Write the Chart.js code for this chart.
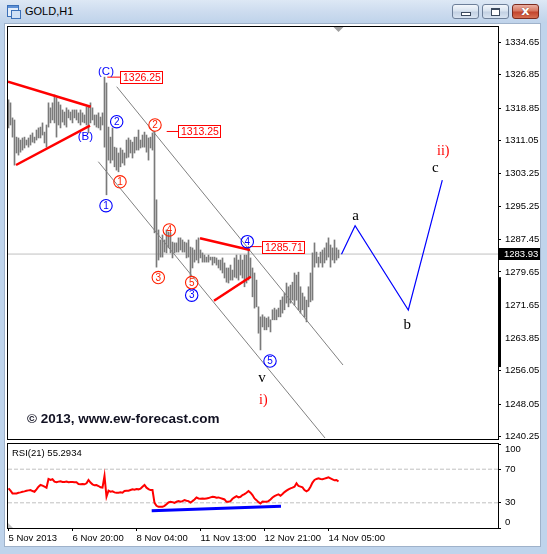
<!DOCTYPE html>
<html>
<head>
<meta charset="utf-8">
<title>GOLD,H1</title>
<script src="https://cdn.jsdelivr.net/npm/chart.js@4.4.1/dist/chart.umd.min.js"></script>
<style>
  html, body { margin: 0; padding: 0; }
  body { width: 547px; height: 554px; overflow: hidden; position: relative; background: #bfd4ec; }
  #title { position: absolute; left: 0; top: 0; width: 547px; height: 23px;
    background: linear-gradient(#dde8f5 0%, #cddcef 50%, #bfd3ea 100%); }
  #icon { position: absolute; left: 7px; top: 5px; width: 10px; height: 10px; border: 1px solid #3b70b8; background: #e4eefa; }
  #icon:before { content: ""; position: absolute; left: 0; top: 0; width: 10px; height: 2px; background: #5d90d6; }
  #icon:after { content: ""; position: absolute; left: 3px; top: 4px; width: 8px; height: 7px; border: 1px solid #3b70b8; background: #cfe0f5; }
  #caption { position: absolute; left: 25px; top: 5px; font: 11px "Liberation Sans", Arial, sans-serif; color: #000; }
  .btn { position: absolute; top: 4px; width: 25px; height: 13px; border: 1px solid #6d7f99; border-radius: 3px;
    background: linear-gradient(#f3f7fc 0%, #d9e3ef 45%, #c3d1e3 55%, #d9e4f1 100%); }
  #bmin { left: 452px; }
  #bmax { left: 482px; }
  #bclose { left: 512px; border-color: #7a2b1e; background: linear-gradient(#eab0a2 0%, #d77862 45%, #c3452d 55%, #d66f52 100%); }
  #bmin i { position: absolute; left: 8px; top: 7px; width: 8px; height: 2px; border: 1px solid #3c4a5e; background: #fff; }
  #bmax i { position: absolute; left: 8px; top: 3px; width: 7px; height: 5px; border: 1px solid #3c4a5e; border-top-width: 2px; background: #fff; }
  #bclose i { position: absolute; left: 0; top: -2px; width: 25px; text-align: center; font: bold 13px "DejaVu Sans", sans-serif; color: #fff; text-shadow: 0 0 1px #5a1a10; }
  #client { position: absolute; left: 4px; top: 23px; width: 537px; height: 524px; box-sizing: border-box; border: 1px solid #9fb2ca; background: #fff; }
  canvas { position: absolute; left: 0; }
  #main { top: 0; }
  #rsi { top: 440px; }
</style>
</head>
<body>
<div id="title">
  <div id="icon"></div>
  <div id="caption">GOLD,H1</div>
  <div class="btn" id="bmin"><i></i></div>
  <div class="btn" id="bmax"><i></i></div>
  <div class="btn" id="bclose"><i>x</i></div>
</div>
<div id="client"></div>
<canvas id="main" width="547" height="441"></canvas>
<canvas id="rsi" width="547" height="114"></canvas>
<script>
// ---- data (bar index = position in the arrays) ----
const priceTicks = [1334.65, 1326.85, 1318.85, 1311.05, 1303.25, 1295.25, 1287.45, 1279.65, 1271.65, 1263.85, 1256.05, 1248.05, 1240.25];
const rsiTicks = [0, 30, 70, 100];
const dateTickBars = [0, 32, 64, 96, 128, 160];
const dateLabels = ["5 Nov 2013", "6 Nov 20:00", "8 Nov 04:00", "11 Nov 13:00", "12 Nov 21:00", "14 Nov 05:00"];

const highs = [
  1320.8, 1320.1, 1316.5, 1316.0, 1311.9, 1311.7, 1311.2, 1311.7, 1311.9, 1311.2,
  1311.7, 1312.4, 1312.9, 1311.9, 1313.6, 1314.1, 1314.3, 1315.3, 1313.1, 1314.8,
  1320.1, 1318.9, 1320.1, 1322.0, 1321.3, 1320.3, 1319.6, 1318.4, 1317.9, 1318.9,
  1318.4, 1317.9, 1318.4, 1318.4, 1318.4, 1317.7, 1318.4, 1317.7, 1317.2, 1319.1,
  1319.1, 1320.1, 1318.9, 1317.2, 1317.2, 1317.7, 1316.7, 1317.7, 1326.25, 1324.85,
  1314.3, 1311.9, 1314.1, 1309.5, 1309.3, 1308.1, 1309.3, 1308.8, 1308.1, 1311.2,
  1311.7, 1311.2, 1310.7, 1311.9, 1311.9, 1313.6, 1311.2, 1312.4, 1313.1, 1312.4,
  1311.7, 1311.9, 1312.9, 1313.25, 1296.9, 1289.7, 1287.3, 1288.5, 1287.3, 1289.7,
  1289.2, 1289.0, 1286.8, 1286.6, 1286.6, 1287.8, 1287.8, 1287.3, 1286.8, 1286.6,
  1287.3, 1285.6, 1285.4, 1284.9, 1287.3, 1287.8, 1284.9, 1284.2, 1283.7, 1283.2,
  1283.7, 1283.2, 1283.2, 1283.2, 1283.0, 1282.5, 1282.5, 1283.0, 1281.8, 1280.6,
  1280.6, 1281.3, 1280.1, 1283.0, 1283.7, 1282.5, 1283.7, 1282.5, 1283.7, 1283.7,
  1285.71, 1283.0, 1280.6, 1279.4, 1277.7, 1271.3, 1268.9, 1269.4, 1268.9, 1268.6,
  1268.9, 1268.2, 1270.6, 1271.0, 1270.6, 1271.0, 1272.9, 1273.7, 1274.6, 1277.0,
  1276.1, 1276.5, 1277.2, 1279.4, 1278.9, 1279.6, 1276.1, 1274.6, 1273.7, 1272.9,
  1276.1, 1279.4, 1284.2, 1286.6, 1284.4, 1283.2, 1284.4, 1284.9, 1285.4, 1286.6,
  1287.8, 1286.1, 1285.4, 1287.3, 1285.4, 1284.9
];
const lows = [
  1314.1, 1314.8, 1311.9, 1305.2, 1308.1, 1307.6, 1308.3, 1308.8, 1309.3, 1310.0,
  1309.5, 1310.0, 1310.7, 1310.5, 1311.2, 1311.7, 1311.7, 1312.4, 1310.5, 1309.5,
  1314.3, 1315.3, 1316.0, 1315.3, 1311.9, 1314.8, 1314.1, 1315.5, 1314.8, 1314.3,
  1316.5, 1316.0, 1315.3, 1316.5, 1316.0, 1315.3, 1314.8, 1315.5, 1315.3, 1314.8,
  1312.9, 1315.3, 1316.0, 1314.8, 1314.3, 1314.1, 1313.6, 1314.8, 1309.5, 1298.1,
  1306.4, 1305.7, 1306.4, 1304.8, 1304.0, 1303.6, 1304.8, 1305.7, 1305.2, 1306.9,
  1307.1, 1308.1, 1306.9, 1308.1, 1308.8, 1308.8, 1309.3, 1309.5, 1309.5, 1308.3,
  1306.4, 1309.3, 1308.8, 1289.0, 1280.8, 1282.5, 1283.2, 1283.2, 1284.4, 1284.2,
  1285.4, 1284.2, 1283.0, 1284.2, 1284.4, 1284.4, 1284.9, 1284.4, 1284.4, 1283.0,
  1283.2, 1278.4, 1280.6, 1282.0, 1282.5, 1281.8, 1283.0, 1282.0, 1282.0, 1282.0,
  1282.0, 1282.5, 1281.3, 1281.8, 1281.3, 1280.6, 1280.1, 1279.4, 1278.2, 1277.2,
  1277.0, 1277.7, 1277.7, 1278.4, 1278.2, 1277.7, 1278.9, 1278.2, 1276.1, 1277.0,
  1277.7, 1278.2, 1273.7, 1271.0, 1271.3, 1265.0, 1261.0, 1266.5, 1265.8, 1265.8,
  1266.5, 1265.3, 1268.2, 1268.2, 1268.2, 1268.9, 1268.9, 1269.8, 1270.6, 1272.2,
  1271.3, 1272.2, 1272.9, 1271.7, 1272.9, 1270.6, 1269.8, 1270.6, 1268.9, 1267.7,
  1271.3, 1272.5, 1272.9, 1280.8, 1281.8, 1280.8, 1281.8, 1280.8, 1281.8, 1282.5,
  1283.2, 1280.8, 1282.5, 1281.8, 1282.5, 1283.0
];
const rsiValues = [
  47.2, 44.4, 41.2, 41.2, 41.2, 42.0, 42.4, 43.2, 43.6, 44.4,
  44.8, 45.2, 44.0, 43.2, 46.0, 49.2, 51.2, 50.4, 49.2, 48.0,
  58.4, 57.2, 58.0, 55.2, 54.4, 55.2, 55.6, 54.8, 54.8, 55.2,
  54.4, 54.8, 54.8, 54.4, 54.4, 52.4, 52.0, 52.4, 52.0, 53.2,
  57.2, 54.0, 52.0, 50.8, 51.2, 50.0, 48.4, 48.0, 62.0, 37.2,
  44.4, 43.2, 43.6, 42.4, 42.0, 42.0, 42.4, 42.0, 44.0, 44.4,
  44.4, 45.2, 46.0, 45.6, 46.4, 46.0, 46.8, 49.2, 51.2, 48.0,
  46.4, 45.2, 45.2, 30.0, 26.4, 25.2, 25.2, 25.2, 26.4, 28.4,
  30.4, 31.2, 30.8, 30.0, 31.2, 32.0, 31.2, 32.0, 33.2, 32.4,
  32.0, 30.4, 32.0, 34.0, 36.4, 35.2, 34.8, 35.2, 34.8, 35.2,
  35.6, 36.4, 37.2, 36.8, 36.0, 36.4, 35.6, 34.8, 34.0, 31.2,
  31.2, 32.0, 34.8, 36.4, 38.0, 36.4, 37.2, 39.2, 40.4, 42.0,
  44.0, 42.0, 39.2, 35.2, 33.2, 30.8, 29.2, 31.6, 31.2, 31.2,
  32.0, 34.0, 36.4, 38.0, 39.2, 40.0, 38.4, 40.4, 42.8, 44.4,
  46.0, 47.2, 48.0, 49.2, 53.2, 50.0, 49.2, 48.4, 45.2, 43.6,
  45.2, 49.2, 54.0, 57.2, 58.4, 59.2, 58.4, 58.0, 58.8, 59.6,
  60.4, 59.2, 58.0, 56.8, 57.2, 55.3
];
const rsiLast = 55.2934;
const lastPrice = 1283.93;

// projected a-b-c path
const projBars = [166.5, 173.3, 199.9, 216.9];
const projPrices = [1283.9, 1290.7, 1270.55, 1301.6];
// channel lines (start bar, end bar) / (start price, end price)
const channelBars = [[54.1, 167.25], [44.9, 158.25]];
const channelPrices = [[1323.96, 1257.39], [1306.02, 1239.93]];
// red triangle lines
const triangleBars = [[-0.25, 41.1], [3.75, 40.75], [95.75, 120.75], [102.75, 121.1]];
const trianglePrices = [[1325.16, 1319.18], [1305.23, 1314.63], [1287.7, 1284.9], [1272.77, 1278.51]];
// marked price levels
const levelMarks = [1326.25, 1313.25, 1285.71];
const levelFromBars = [49.4, 79.1, 120.75];
const levelToBars = [55.75, 84.9, 126.6];
// RSI support line
const rsiSupportBars = [71.6, 136.25];
const rsiSupportValues = [20.4, 26.0];

// wave labels: text, bar, price, style
const waveLabels = [
  ["(C)", 48.75, 1327.55, "blueText"], ["(B)", 38.4, 1312.0, "blueText"],
  ["2", 54.1, 1315.6, "blue"], ["1", 48.75, 1295.5, "blue"], ["3", 91.6, 1274.1, "blue"],
  ["4", 119.4, 1286.9, "blue"], ["5", 130.75, 1258.35, "blue"],
  ["1", 55.75, 1301.2, "red"], ["2", 73.25, 1314.8, "red"], ["3", 74.9, 1278.3, "red"],
  ["4", 80.4, 1289.7, "red"], ["5", 91.6, 1277.1, "red"],
  ["a", 173.6, 1293.0, "serif"], ["b", 199.4, 1267.0, "serif"], ["c", 213.4, 1304.4, "serif"],
  ["v", 126.75, 1254.2, "serif"], ["ii)", 217.4, 1308.4, "redSerif"], ["i)", 127.4, 1249.0, "redSerif"]
];

const X_MIN = -0.25, X_MAX = 244.75;
const FONT = '"Liberation Sans", Arial, sans-serif';
Chart.defaults.font.family = FONT;
Chart.defaults.color = "#000";

function seg(xs, ys) {
  return xs.map((v, k) => ({ x: v, y: ys[k] }));
}
function lineSet(data, color, width, order, dash) {
  return { type: "line", data: data, borderColor: color, borderWidth: width, pointRadius: 0,
    borderDash: dash || [], order: order, tension: 0 };
}

const mainSets = [];
mainSets.push(lineSet(seg(projBars, projPrices), "#0000ff", 1.2, 0));
triangleBars.forEach((b, k) => mainSets.push(lineSet(seg(b, trianglePrices[k]), "#ff0000", 2.5, 1)));
levelMarks.forEach((p, k) => mainSets.push(lineSet(seg([levelFromBars[k], levelToBars[k]], [p, p]), "#ff0000", 1, 1)));
channelBars.forEach((b, k) => mainSets.push(lineSet(seg(b, channelPrices[k]), "#808080", 1, 2)));
mainSets.push({
  type: "bar",
  data: highs.map((h, j) => ({ x: j, y: [lows[j], h] })),
  backgroundColor: "#7a7a7a", borderWidth: 0, barThickness: 1, grouped: false, order: 3
});
mainSets.push(lineSet(seg([X_MIN, X_MAX], [lastPrice, lastPrice]), "#c0c0c0", 1, 4));

function circled(ctx, px, py, txt, color) {
  ctx.beginPath();
  ctx.arc(px, py, 6.2, 0, Math.PI * 2);
  ctx.strokeStyle = color;
  ctx.lineWidth = 1.1;
  ctx.stroke();
  ctx.fillStyle = color;
  ctx.font = "10px " + FONT;
  ctx.textAlign = "center";
  ctx.textBaseline = "middle";
  ctx.fillText(txt, px, py + 0.5);
}

const mainDecor = {
  id: "mainDecor",
  afterDraw(chart) {
    const { ctx, chartArea: a, scales: { x, y } } = chart;
    ctx.save();
    ctx.strokeStyle = "#000";
    ctx.lineWidth = 1;
    ctx.strokeRect(a.left - 0.5, a.top - 0.5, a.right - a.left + 1, a.bottom - a.top + 1);

    // shift marker above the last bar
    const sx = x.getPixelForValue(highs.length - 1);
    ctx.fillStyle = "#a0a0a0";
    ctx.beginPath();
    ctx.moveTo(sx - 5, a.top);
    ctx.lineTo(sx + 5, a.top);
    ctx.lineTo(sx, a.top + 5);
    ctx.fill();

    // level boxes
    ctx.font = "10.5px " + FONT;
    ctx.textBaseline = "middle";
    levelMarks.forEach((p, k) => {
      const bx = Math.round(x.getPixelForValue(levelToBars[k])) + 0.5;
      const by = Math.round(y.getPixelForValue(p)) + 0.5;
      ctx.fillStyle = "#fff";
      ctx.fillRect(bx, by - 6, 42, 12);
      ctx.strokeStyle = "#ff0000";
      ctx.strokeRect(bx, by - 6, 42, 12);
      ctx.fillStyle = "#ff0000";
      ctx.textAlign = "left";
      ctx.fillText(p.toFixed(2), bx + 2.5, by + 0.5);
    });

    // wave labels
    waveLabels.forEach(([t, b, p, kind]) => {
      const px = x.getPixelForValue(b), py = y.getPixelForValue(p);
      if (kind === "blue") circled(ctx, px, py, t, "#0000ff");
      else if (kind === "red") circled(ctx, px, py, t, "#ff2000");
      else {
        ctx.textAlign = "center";
        ctx.textBaseline = "middle";
        if (kind === "blueText") { ctx.font = "11.5px " + FONT; ctx.fillStyle = "#0000ff"; }
        else if (kind === "serif") { ctx.font = '15px "Liberation Serif", serif'; ctx.fillStyle = "#000"; }
        else { ctx.font = '14px "Liberation Serif", serif'; ctx.fillStyle = "#ff0000"; }
        ctx.fillText(t, px, py);
      }
    });

    // current price marker on the axis
    const cy = Math.round(y.getPixelForValue(lastPrice));
    ctx.fillStyle = "#000";
    ctx.fillRect(a.right, cy - 6, 42, 12);
    ctx.fillStyle = "#fff";
    ctx.font = "9.5px " + FONT;
    ctx.textAlign = "left";
    ctx.fillText(lastPrice.toFixed(2), a.right + 6, cy);

    // dark band on the axis
    const t1 = y.getPixelForValue(1278.4), t2 = y.getPixelForValue(1256.9);
    ctx.fillStyle = "#000";
    ctx.fillRect(a.right, t1, 3, t2 - t1);

    // copyright
    ctx.fillStyle = "#111122";
    ctx.font = "bold 13.5px " + FONT;
    ctx.textAlign = "left";
    ctx.fillText("\u00a9 2013, www.ew-forecast.com", 27, 419);
    ctx.restore();
  }
};

new Chart(document.getElementById("main"), {
  type: "bar",
  data: { datasets: mainSets },
  options: {
    responsive: false, animation: false, events: [], devicePixelRatio: 1,
    layout: { padding: { left: 8, top: 27, right: 0, bottom: 2 } },
    plugins: { legend: { display: false }, tooltip: { enabled: false } },
    scales: {
      x: { type: "linear", min: X_MIN, max: X_MAX, display: false, offset: false, grid: { offset: false } },
      y: {
        type: "linear", position: "right", min: 1239.69, max: 1338.24,
        afterBuildTicks: (s) => { s.ticks = priceTicks.map((v) => ({ value: v })); },
        afterFit: (s) => { s.width = 49; s.paddingTop = 0; s.paddingBottom = 0; },
        ticks: { callback: (v) => v.toFixed(2), font: { size: 9.5 }, color: "#000", padding: 4, autoSkip: false },
        grid: { drawOnChartArea: false, drawTicks: true, tickLength: 3, color: "#000" },
        border: { display: false }
      }
    }
  },
  plugins: [mainDecor]
});

const rsiDecor = {
  id: "rsiDecor",
  afterDraw(chart) {
    const { ctx, chartArea: a } = chart;
    ctx.save();
    ctx.strokeStyle = "#000";
    ctx.lineWidth = 1;
    ctx.strokeRect(a.left - 0.5, a.top - 0.5, a.right - a.left + 1, a.bottom - a.top + 1);
    ctx.fillStyle = "#c0c0c0";
    ctx.beginPath();
    ctx.moveTo(a.left, a.bottom - 5);
    ctx.lineTo(a.left, a.bottom);
    ctx.lineTo(a.left + 5, a.bottom);
    ctx.fill();
    ctx.fillStyle = "#000";
    ctx.font = "9.5px " + FONT;
    ctx.textAlign = "left";
    ctx.textBaseline = "middle";
    ctx.fillText("RSI(21) " + rsiLast.toFixed(4), 12, a.top + 9);
    ctx.restore();
  }
};

new Chart(document.getElementById("rsi"), {
  type: "line",
  data: {
    datasets: [
      lineSet(seg(rsiSupportBars, rsiSupportValues), "#0000ff", 3, 0),
      lineSet(rsiValues.map((v, j) => ({ x: j, y: v })), "#ff0000", 2, 1),
      lineSet(seg([X_MIN, X_MAX], [70, 70]), "#c0c0c0", 1, 2, [4, 2]),
      lineSet(seg([X_MIN, X_MAX], [30, 30]), "#c0c0c0", 1, 2, [4, 2])
    ]
  },
  options: {
    responsive: false, animation: false, events: [], devicePixelRatio: 1,
    layout: { padding: { left: 8, top: 4, right: 0, bottom: 0 } },
    plugins: { legend: { display: false }, tooltip: { enabled: false } },
    scales: {
      x: {
        type: "linear", min: X_MIN, max: X_MAX, offset: false,
        afterBuildTicks: (s) => { s.ticks = dateTickBars.map((v) => ({ value: v })); },
        afterFit: (s) => { s.height = 26; s.paddingLeft = 0; s.paddingRight = 0; },
        ticks: {
          align: "start", autoSkip: false, maxRotation: 0, minRotation: 0, padding: 2,
          font: { size: 9.5 }, color: "#000",
          callback: (v) => dateLabels[dateTickBars.indexOf(v)]
        },
        grid: { drawOnChartArea: false, tickLength: 3, color: "#000", offset: false },
        border: { display: false }
      },
      y: {
        type: "linear", position: "right", min: 0, max: 100,
        afterBuildTicks: (s) => { s.ticks = rsiTicks.map((v) => ({ value: v })); },
        afterFit: (s) => { s.width = 49; s.paddingTop = 0; s.paddingBottom = 0; },
        ticks: {
          font: { size: 9.5 }, color: "#000", padding: 4, autoSkip: false,
          callback: (v) => (v === 100 ? ["", "100"] : v === 0 ? ["0", ""] : String(v))
        },
        grid: { drawOnChartArea: false, tickLength: 3, color: "#000" },
        border: { display: false }
      }
    }
  },
  plugins: [rsiDecor]
});
</script>
</body>
</html>
